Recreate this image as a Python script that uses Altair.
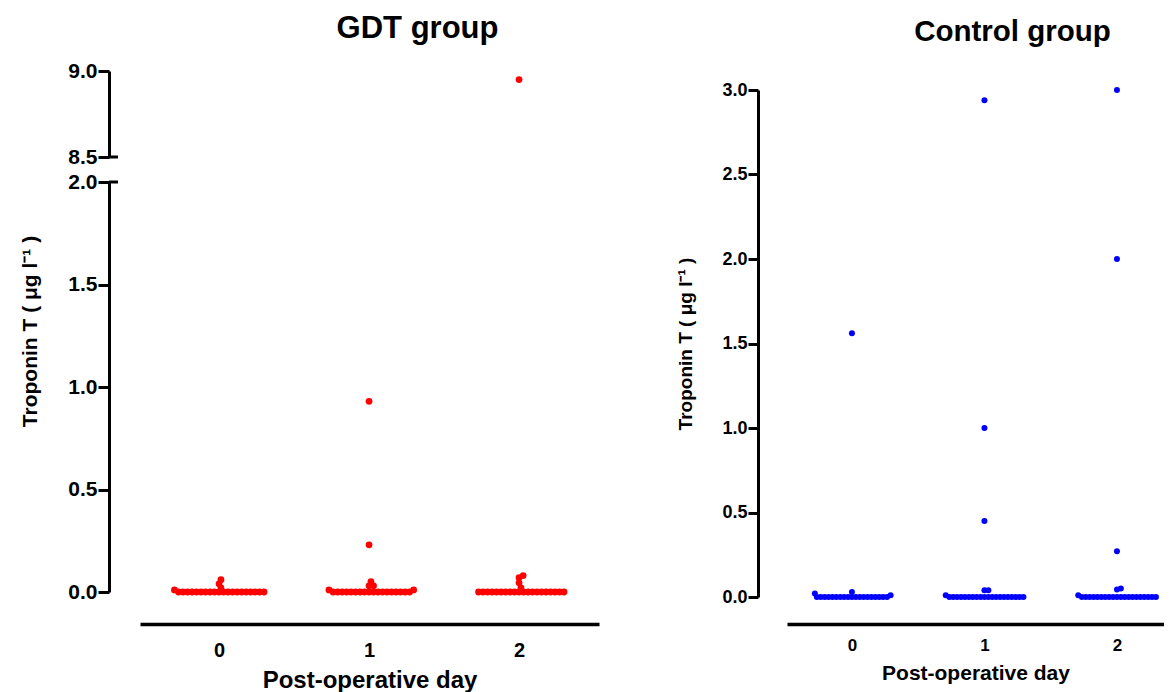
import altair as alt
import pandas as pd

# ---------------- data ----------------
days = [0, 1, 2]

gdt_day0 = [0.06, 0.04, 0.02, 0.01,
            0.0, 0.0, 0.0, 0.0, 0.0, 0.0, 0.0, 0.0, 0.0, 0.0,
            0.0, 0.0, 0.0, 0.0, 0.0, 0.0, 0.0, 0.0, 0.0, 0.0]
gdt_day1 = [0.93, 0.23, 0.05, 0.03, 0.03, 0.01, 0.01,
            0.0, 0.0, 0.0, 0.0, 0.0, 0.0, 0.0, 0.0, 0.0, 0.0,
            0.0, 0.0, 0.0, 0.0, 0.0, 0.0, 0.0, 0.0]
gdt_day2 = [8.95, 0.08, 0.07, 0.045, 0.02,
            0.0, 0.0, 0.0, 0.0, 0.0, 0.0, 0.0, 0.0, 0.0, 0.0,
            0.0, 0.0, 0.0, 0.0, 0.0, 0.0, 0.0, 0.0, 0.0, 0.0]

ctl_day0 = [1.56, 0.03, 0.02, 0.01,
            0.0, 0.0, 0.0, 0.0, 0.0, 0.0, 0.0, 0.0, 0.0, 0.0,
            0.0, 0.0, 0.0, 0.0, 0.0, 0.0, 0.0, 0.0, 0.0]
ctl_day1 = [2.94, 1.0, 0.45, 0.04, 0.04, 0.01,
            0.0, 0.0, 0.0, 0.0, 0.0, 0.0, 0.0, 0.0, 0.0, 0.0,
            0.0, 0.0, 0.0, 0.0, 0.0, 0.0, 0.0, 0.0, 0.0, 0.0]
ctl_day2 = [3.0, 2.0, 0.27, 0.05, 0.045, 0.01,
            0.0, 0.0, 0.0, 0.0, 0.0, 0.0, 0.0, 0.0, 0.0, 0.0,
            0.0, 0.0, 0.0, 0.0, 0.0, 0.0, 0.0, 0.0, 0.0, 0.0]

y_ticks_gdt_low = [0.0, 0.5, 1.0, 1.5, 2.0]
y_ticks_gdt_high = [8.5, 9.0]
y_ticks_ctl = [0.0, 0.5, 1.0, 1.5, 2.0, 2.5, 3.0]
x_ticks = [0, 1, 2]

title_gdt = "GDT group"
title_ctl = "Control group"
x_title = "Post-operative day"
y_title = "Troponin T ( μg l⁻¹ )"

# ---------------- layout constants ----------------
FONT = "Liberation Sans"
L_W, L_TOP_H, L_BOT_H, L_GAP = 459, 86, 410, 25
R_W, R_H, R_DROP = 377, 507, 19
L_XDOM = [-0.527, 2.533]
R_XDOM = [-0.49, 2.355]
L_PXX = L_W / (L_XDOM[1] - L_XDOM[0])
R_PXX = R_W / (R_XDOM[1] - R_XDOM[0])
L_PXY = L_BOT_H / 2.0
R_PXY = R_H / 3.0


def swarm(values, pxy, dmin, step=0.1):
    """Simple deterministic beeswarm: returns horizontal pixel offsets."""
    order = sorted(range(len(values)), key=lambda i: values[i])
    placed = []
    offs = [0.0] * len(values)
    for i in order:
        y = values[i] * pxy
        k = 0
        found = None
        while found is None:
            cands = [0.0] if k == 0 else [k * step, -k * step]
            for c in cands:
                if all((c - px) ** 2 + (y - py) ** 2 >= dmin ** 2 - 1e-9 for px, py in placed):
                    found = c
                    break
            k += 1
        placed.append((found, y))
        offs[i] = found
    return offs


def build(values_by_day, pxy, pxx, dmin):
    rows = []
    for d, vals in zip(days, values_by_day):
        offs = swarm(vals, pxy, dmin)
        for v, o in zip(vals, offs):
            rows.append({"day": d, "x": d + o / pxx, "value": v})
    return pd.DataFrame(rows)


gdt = build([gdt_day0, gdt_day1, gdt_day2], L_PXY, L_PXX, 4.5)
ctl = build([ctl_day0, ctl_day1, ctl_day2], R_PXY, R_PXX, 3.9)
gdt_low = gdt[gdt["value"] <= 2.0]
gdt_high = gdt[gdt["value"] >= 8.5]

RED = "#ff0000"
BLUE = "#0000ff"

# ---------------- GDT: top (broken) segment ----------------
top_y = alt.Scale(domain=[8.5, 9.0], nice=False, zero=False)
top_axis = alt.Axis(values=y_ticks_gdt_high, format=".1f", offset=31, tickSize=11,
                    tickWidth=3, domainWidth=3, labelPadding=1, labelFontSize=21,
                    labelFontWeight="bold", title=None)
top_pts = alt.Chart(gdt_high).mark_circle(color=RED, opacity=1, size=46).encode(
    x=alt.X("x:Q", scale=alt.Scale(domain=L_XDOM, nice=False, zero=False), axis=None),
    y=alt.Y("value:Q", scale=top_y, axis=top_axis),
)
top_cap = alt.Chart(pd.DataFrame({"value": [8.5]})).mark_rule(color="black", strokeWidth=3).encode(
    y=alt.Y("value:Q", scale=top_y, axis=top_axis), x=alt.value(-31), x2=alt.value(-22)
)
gdt_top = alt.layer(top_pts, top_cap).properties(
    width=L_W, height=L_TOP_H,
    title=alt.TitleParams(title_gdt, fontSize=31, fontWeight="bold", font=FONT, frame="group",
                          anchor="middle", dx=48, offset=15, color="black"),
)

# ---------------- GDT: bottom segment ----------------
bot_y = alt.Scale(domain=[0.0, 2.0], nice=False, zero=False)
bot_axis = alt.Axis(values=y_ticks_gdt_low, format=".1f", offset=31, tickSize=11,
                    tickWidth=3, domainWidth=3, labelPadding=1, labelFontSize=21,
                    labelFontWeight="bold", title=y_title, titleFontSize=21,
                    titleFontWeight="bold", titlePadding=27, titleY=149)
bot_pts = alt.Chart(gdt_low).mark_circle(color=RED, opacity=1, size=46).encode(
    x=alt.X("x:Q", scale=alt.Scale(domain=L_XDOM, nice=False, zero=False),
            axis=alt.Axis(values=x_ticks, format="d", ticks=False, tickSize=0, domainWidth=3.5,
                          offset=32, labelPadding=16, labelFontSize=20, labelFontWeight="bold",
                          title=x_title, titleFontSize=24, titleFontWeight="bold", titlePadding=8)),
    y=alt.Y("value:Q", scale=bot_y, axis=bot_axis),
)
bot_cap = alt.Chart(pd.DataFrame({"value": [2.0]})).mark_rule(color="black", strokeWidth=3).encode(
    y=alt.Y("value:Q", scale=bot_y, axis=bot_axis), x=alt.value(-31), x2=alt.value(-22)
)
gdt_bot = alt.layer(bot_pts, bot_cap).properties(width=L_W, height=L_BOT_H)

left = alt.vconcat(gdt_top, gdt_bot, spacing=L_GAP, bounds="flush")

# ---------------- Control ----------------
spacer = alt.Chart(pd.DataFrame({"a": [0]})).mark_point(opacity=0).encode(
    x=alt.value(0), y=alt.value(0)
).properties(width=R_W, height=R_DROP)

ctl_chart = alt.Chart(ctl).mark_circle(color=BLUE, opacity=1, size=36).encode(
    x=alt.X("x:Q", scale=alt.Scale(domain=R_XDOM, nice=False, zero=False),
            axis=alt.Axis(values=x_ticks, format="d", ticks=False, tickSize=0, domainWidth=3.5,
                          offset=27, labelPadding=13, labelFontSize=17, labelFontWeight="bold",
                          title=x_title, titleFontSize=21, titleFontWeight="bold", titlePadding=9)),
    y=alt.Y("value:Q", scale=alt.Scale(domain=[0.0, 3.0], nice=False, zero=False),
            axis=alt.Axis(values=y_ticks_ctl, format=".1f", offset=29, tickSize=10,
                          tickWidth=3, domainWidth=3, labelPadding=1, labelFontSize=18,
                          labelFontWeight="bold", title=y_title, titleFontSize=19,
                          titleFontWeight="bold", titlePadding=26)),
).properties(
    width=R_W, height=R_H,
    title=alt.TitleParams(title_ctl, fontSize=29.5, fontWeight="bold", font=FONT, frame="group",
                          anchor="middle", dx=37, offset=34, color="black"),
)

right = alt.vconcat(spacer, ctl_chart, spacing=0, bounds="flush")

chart = alt.hconcat(left, right, spacing=77).properties(
    padding={"left": 11, "top": 5, "right": 0, "bottom": 0},
    background="white",
).configure_view(stroke=None).configure_axis(
    grid=False, labelFont=FONT, titleFont=FONT, labelColor="black", titleColor="black",
    domainColor="black", tickColor="black",
).configure_title(font=FONT, color="black")

chart.save("out.html", embed_options={"renderer": "svg", "actions": False})
